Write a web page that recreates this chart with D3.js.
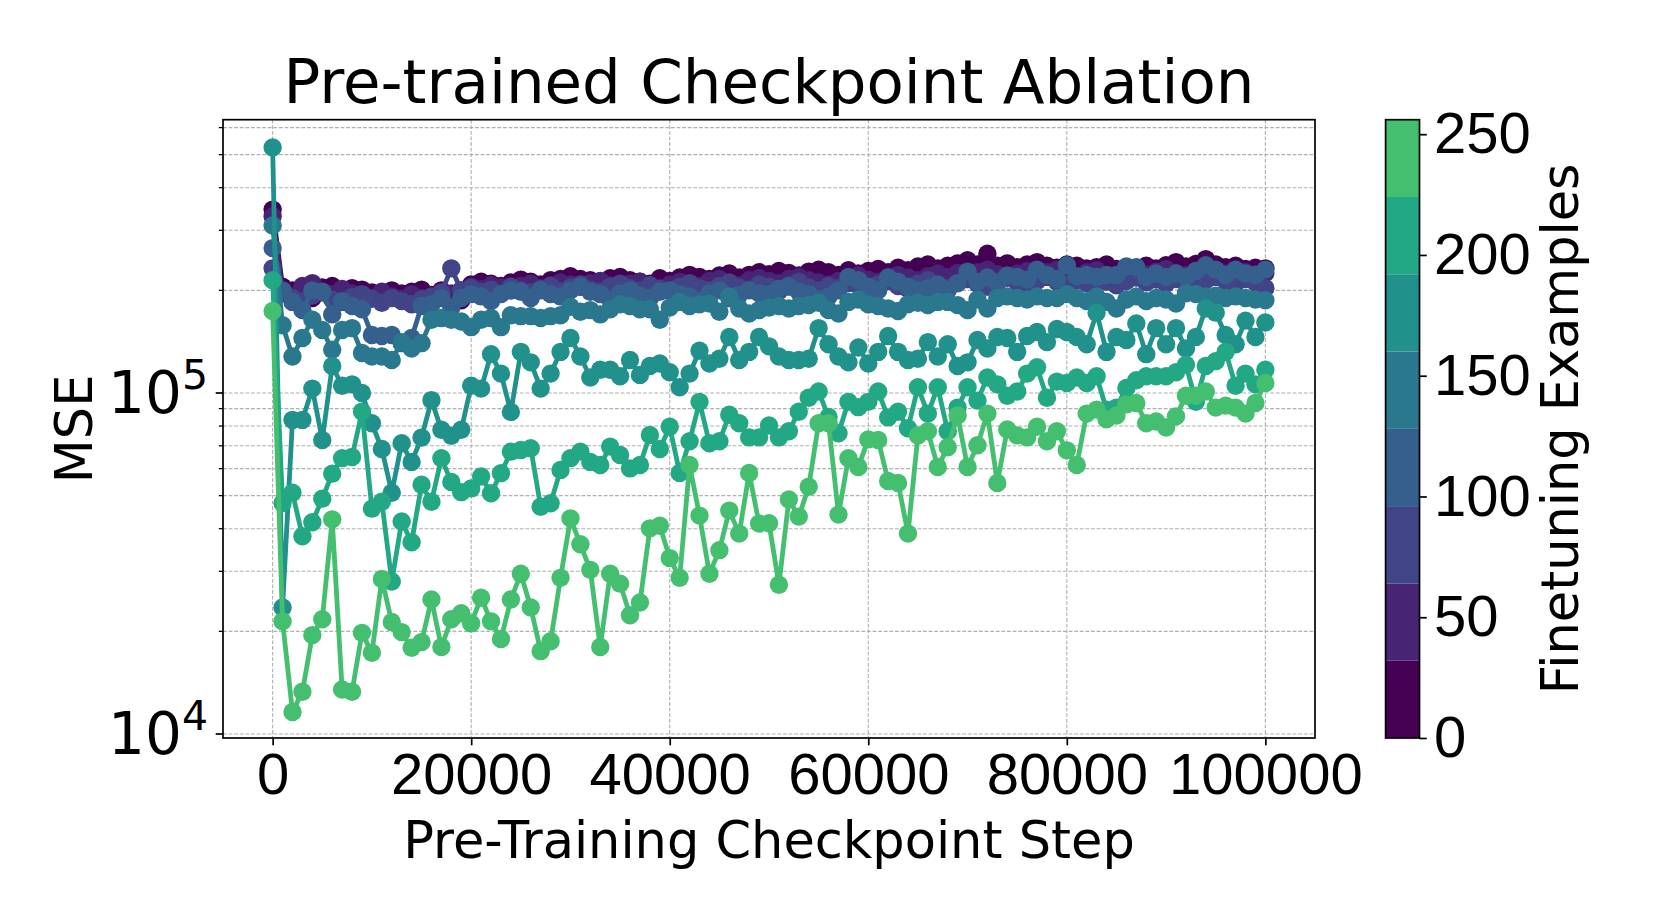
<!DOCTYPE html>
<meta charset="utf-8">
<style>
    body { margin: 0; background: #fff; }
    svg { font-family: 'DejaVu Sans', sans-serif; }
    .grid line { stroke: #b0b0b0; stroke-width: 1.1; stroke-dasharray: 3.8 1.8; }
    .axis path, .axis line { stroke: #000; stroke-width: 1.7; }
    .axis text { font-size: 58px; fill: #000; }
    .label { font-size: 51px; fill: #000; }
    .title { font-size: 61px; fill: #000; }
</style>
<svg width="1661" height="923"></svg>
<script src="https://d3js.org/d3.v7.min.js"></script>
<script>
    // checkpoints every 1000 steps, 0 .. 100000
    var steps = d3.range(0, 100001, 1000);

    // number of finetuning examples per run (one line each)
    var finetuneExamples = [16, 48, 80, 112, 144, 176, 208, 240];

    // MSE per checkpoint, in thousands
    var mse16 = [345, 205, 200, 197, 190, 204, 206, 199, 203, 201,
        197, 195, 200, 196, 198, 201, 194, 200, 190, 187,
        208, 212, 209, 206, 211, 215, 212, 208, 214, 216,
        220, 216, 214, 212, 217, 219, 214, 212, 209, 217,
        213, 218, 222, 219, 216, 221, 224, 218, 222, 226,
        223, 228, 225, 221, 227, 230, 226, 222, 229, 224,
        228, 231, 226, 233, 229, 235, 238, 232, 236, 240,
        245, 238, 256, 236, 240, 234, 238, 242, 236, 233,
        238, 236, 232, 234, 238, 231, 229, 233, 236, 232,
        237, 242, 235, 239, 247, 238, 234, 236, 231, 233, 232];
    var mse48 = [330, 200, 192, 206, 210, 198, 195, 202, 196, 194,
        190, 198, 192, 189, 195, 190, 185, 193, 196, 200,
        205, 202, 207, 204, 200, 206, 209, 203, 207, 211,
        208, 205, 210, 213, 207, 204, 209, 212, 206, 203,
        208, 212, 209, 206, 213, 216, 210, 207, 214, 217,
        213, 210, 216, 219, 214, 211, 208, 213, 217, 221,
        215, 212, 219, 222, 218, 214, 220, 224, 219, 225,
        221, 226, 230, 223, 218, 224, 228, 221, 226, 230,
        224, 219, 226, 229, 222, 218, 225, 228, 223, 227,
        231, 225, 222, 228, 235, 227, 224, 221, 226, 223, 225];
    var mse80 = [232, 196, 190, 186, 193, 197, 188, 185, 191, 195,
        189, 184, 190, 186, 182, 188, 192, 197, 232, 200,
        203, 198, 201, 196, 205, 200, 197, 202, 206, 199,
        204, 208, 201, 198, 205, 209, 203, 200, 207, 202,
        199, 205, 210, 203, 200, 206, 211, 204, 201, 208,
        205, 199, 207, 212, 204, 200, 206, 203, 210, 207,
        201, 208, 213, 206, 202, 209, 214, 207, 203, 210,
        216, 209, 205, 212, 218, 211, 207, 213, 219, 212,
        208, 214, 210, 216, 212, 207, 213, 218, 211, 215,
        209, 216, 212, 208, 214, 219, 213, 209, 216, 211, 203];
    var mse112 = [266, 200, 185, 175, 200, 198, 170, 186, 180, 176,
        148, 147, 148, 140, 145, 180, 182, 190, 178, 190,
        195, 192, 186, 195, 200, 198, 190, 200, 195, 192,
        200, 205, 198, 195, 188, 196, 200, 193, 190, 198,
        200, 195, 192, 186, 196, 200, 190, 194, 200, 196,
        195, 202, 205, 198, 195, 188, 192, 200, 219, 214,
        205, 200, 218, 212, 205, 200, 203, 208, 200, 210,
        227, 212, 218, 210, 221, 219, 215, 230, 222, 216,
        237, 220, 222, 219, 222, 222, 235, 234, 219, 224,
        219, 224, 219, 228, 237, 230, 222, 230, 224, 222, 230];
    var mse144 = [310, 158, 128, 145, 164, 153, 134, 153, 155, 131,
        128, 128, 125, 141, 135, 140, 164, 166, 164, 162,
        156, 164, 166, 156, 169, 168, 168, 166, 168, 169,
        179, 173, 175, 170, 176, 182, 180, 176, 176, 164,
        178, 185, 180, 182, 183, 173, 192, 177, 171, 175,
        178, 180, 177, 180, 181, 184, 175, 171, 185, 188,
        182, 180, 177, 174, 182, 184, 181, 185, 185, 181,
        175, 188, 177, 190, 192, 190, 188, 192, 190, 190,
        195, 190, 186, 192, 185, 177, 188, 192, 186, 190,
        188, 183, 196, 195, 192, 193, 190, 192, 190, 188, 187];
    var mse176 = [525, 23.5, 83.4, 83.4, 103, 72.8, 120, 105, 106, 100,
        81.5, 68.5, 51, 71.2, 62.8, 74, 95.3, 78, 74.9, 78,
        105, 103, 130, 114, 88, 132, 123, 103, 114, 132,
        145, 128, 111, 117, 117, 112, 125, 113, 120, 122,
        115, 104, 114, 133, 122, 126, 146, 125, 132, 146,
        137, 128, 125, 125, 126, 155, 139, 128, 123, 136,
        122, 132, 147, 132, 125, 126, 141, 128, 139, 120,
        123, 143, 135, 146, 145, 132, 147, 151, 141, 154,
        151, 146, 139, 172, 132, 146, 143, 160, 130, 155,
        139, 155, 135, 146, 177, 172, 148, 139, 163, 146, 161];
    var mse208 = [214, 47.6, 51, 38, 41.8, 49, 58, 64.4, 64.9, 88.2,
        45.8, 48, 28, 42, 36.5, 53.8, 48, 64.4, 54.8, 51.2,
        52.5, 56.9, 50.8, 58.2, 67.3, 68.1, 68.9, 46.4, 47.5, 59.5,
        64.4, 67.3, 62.8, 61.5, 69.6, 65.8, 60.1, 61.5, 75.3, 68.5,
        79.6, 58.3, 72.2, 94.2, 71.2, 72.2, 86.3, 81.5, 74.1, 74.1,
        80.3, 74.1, 77.2, 88.1, 96.8, 101, 85, 76.2, 94.2, 90.9,
        94.2, 101, 84.8, 88.1, 78.8, 104, 87, 104, 77.2, 90.6,
        104, 95, 111, 106, 98.2, 101, 114, 119, 96.8, 108,
        107, 111, 107, 112, 89.4, 90.6, 103.5, 109, 112, 112,
        112, 115, 121, 94.2, 120, 124, 132, 105, 114, 106, 117];
    var mse240 = [174, 21.4, 11.6, 13.3, 19.5, 21.7, 42.6, 13.5, 13.3, 19.8,
        17.3, 28.5, 21.3, 19.9, 17.9, 18.6, 24.8, 18.0, 21.7, 22.6,
        21.1, 25.1, 21.4, 19.0, 24.8, 29.5, 23.5, 17.5, 18.7, 28.7,
        42.9, 36.0, 30.3, 18.0, 29.5, 27.6, 22.3, 24.3, 40.1, 40.8,
        32.8, 28.7, 61.5, 43.7, 29.5, 34.6, 45.2, 38.7, 58.3, 41.4,
        41.5, 27.4, 48.7, 43.4, 53.1, 81.5, 81.5, 44.0, 64.4, 60.7,
        73.1, 72.8, 55.2, 54.5, 38.7, 75.1, 77.2, 60.7, 69.3, 85.9,
        60.7, 70.3, 87.0, 54.5, 78.2, 75.1, 74.1, 79.6, 72.2, 77.2,
        67.9, 61.5, 87.0, 89.4, 83.7, 85.9, 92.6, 93.5, 81.5, 82.5,
        79.2, 85.4, 98.2, 98.2, 101, 90.6, 91.8, 90.6, 87.0, 93.5, 107];

    var mseRuns = [mse16, mse48, mse80, mse112, mse144, mse176, mse208, mse240];

    var xTicks = [0, 20000, 40000, 60000, 80000, 100000];
    var yMajor = [1e4, 1e5];
    var cbTicks = [0, 50, 100, 150, 200, 250];
    var cbBounds = [0, 32, 64, 96, 128, 160, 192, 224, 256];

    var svg = d3.select("svg");
    var pLeft = 223, pRight = 1315, pTop = 119.7, pBottom = 738;

    var x = d3.scaleLinear().domain([-5000, 105000]).range([pLeft, pRight]);
    var y = d3.scaleLog().domain([9734, 633000]).range([pBottom, pTop]);

    // discrete viridis, 8 bins over 0..256
    var bandColors = d3.range(8).map(function(i) { return d3.interpolateViridis(i / 10); });
    var color = d3.scaleQuantize().domain([0, 256]).range(bandColors);

    // grid
    var yGrid = [];
    [1e4, 1e5].forEach(function(dec) {
        for (var k = 1; k < 10; k++) {
            var v = dec * k;
            if (v >= y.domain()[0] && v <= y.domain()[1]) yGrid.push(v);
        }
    });
    var grid = svg.append("g").attr("class", "grid");
    grid.selectAll(".gx").data(xTicks).enter().append("line")
        .attr("x1", function(d) { return x(d); }).attr("x2", function(d) { return x(d); })
        .attr("y1", pTop).attr("y2", pBottom);
    grid.selectAll(".gy").data(yGrid).enter().append("line")
        .attr("x1", pLeft).attr("x2", pRight)
        .attr("y1", function(d) { return y(d); }).attr("y2", function(d) { return y(d); });

    // runs
    var line = d3.line()
        .x(function(d, i) { return x(steps[i]); })
        .y(function(d) { return y(d * 1000); });

    var runs = svg.append("g").selectAll("g")
        .data(mseRuns).enter().append("g")
        .attr("fill", function(d, k) { return color(finetuneExamples[k]); })
        .attr("stroke", function(d, k) { return color(finetuneExamples[k]); });
    runs.append("path")
        .attr("fill", "none")
        .attr("stroke-width", 4.8)
        .attr("stroke-linejoin", "round")
        .attr("d", line);
    runs.selectAll("circle")
        .data(function(d) { return d; })
        .enter().append("circle")
        .attr("stroke", "none")
        .attr("cx", function(d, i) { return x(steps[i]); })
        .attr("cy", function(d) { return y(d * 1000); })
        .attr("r", 9.2);

    // frame
    svg.append("rect")
        .attr("x", pLeft).attr("y", pTop)
        .attr("width", pRight - pLeft).attr("height", pBottom - pTop)
        .attr("fill", "none").attr("stroke", "#000").attr("stroke-width", 1.7);

    // x axis
    var xAxis = svg.append("g").attr("class", "axis")
        .attr("transform", "translate(0," + pBottom + ")")
        .call(d3.axisBottom(x).tickValues(xTicks).tickFormat(d3.format("d")).tickSize(7.3).tickPadding(7.3));
    xAxis.select(".domain").remove();
    xAxis.selectAll("text").attr("font-family", null).attr("font-size", null);

    // y axis, major + minor ticks
    var yAxis = svg.append("g").attr("class", "axis");
    yAxis.selectAll(".minor").data(yGrid.filter(function(d) { return yMajor.indexOf(d) < 0; }))
        .enter().append("line")
        .attr("x1", pLeft - 4.2).attr("x2", pLeft)
        .attr("y1", function(d) { return y(d); }).attr("y2", function(d) { return y(d); })
        .style("stroke-width", 1.25);
    yAxis.selectAll(".major").data(yMajor).enter().append("line")
        .attr("x1", pLeft - 7.3).attr("x2", pLeft)
        .attr("y1", function(d) { return y(d); }).attr("y2", function(d) { return y(d); });
    var yLab = yAxis.selectAll(".yl").data(yMajor).enter().append("text")
        .attr("x", pLeft - 15)
        .attr("y", function(d) { return y(d) + 20; })
        .attr("text-anchor", "end");
    yLab.append("tspan").text("10");
    yLab.append("tspan")
        .attr("font-size", "41px")
        .attr("dy", "-24")
        .text(function(d) { return Math.round(Math.log10(d)); });

    // axis labels and title
    svg.append("text").attr("class", "label")
        .attr("x", (pLeft + pRight) / 2).attr("y", 858)
        .attr("text-anchor", "middle")
        .text("Pre-Training Checkpoint Step");
    svg.append("text").attr("class", "label")
        .attr("transform", "translate(92," + ((pTop + pBottom) / 2) + ") rotate(-90)")
        .attr("text-anchor", "middle")
        .text("MSE");
    svg.append("text").attr("class", "title")
        .attr("x", (pLeft + pRight) / 2).attr("y", 103)
        .attr("text-anchor", "middle")
        .text("Pre-trained Checkpoint Ablation");

    // colorbar
    var cbLeft = 1385.6, cbRight = 1419.5;
    var cbY = d3.scaleLinear().domain([0, 256]).range([pBottom, pTop]);
    var cb = svg.append("g");
    cb.selectAll("rect").data(bandColors).enter().append("rect")
        .attr("x", cbLeft).attr("width", cbRight - cbLeft)
        .attr("y", function(d, i) { return cbY(cbBounds[i + 1]); })
        .attr("height", function(d, i) { return cbY(cbBounds[i]) - cbY(cbBounds[i + 1]); })
        .attr("fill", function(d) { return d; });
    cb.append("rect")
        .attr("x", cbLeft).attr("y", pTop)
        .attr("width", cbRight - cbLeft).attr("height", pBottom - pTop)
        .attr("fill", "none").attr("stroke", "#000").attr("stroke-width", 1.7);
    var cbAxis = svg.append("g").attr("class", "axis")
        .attr("transform", "translate(" + cbRight + ",0)")
        .call(d3.axisRight(cbY).tickValues(cbTicks).tickSize(7.3).tickPadding(7.3));
    cbAxis.select(".domain").remove();
    cbAxis.selectAll("text").attr("font-family", null).attr("font-size", null);
    svg.append("text").attr("class", "label")
        .attr("transform", "translate(1578," + ((pTop + pBottom) / 2) + ") rotate(-90)")
        .attr("text-anchor", "middle")
        .text("Finetuning Examples");
</script>
